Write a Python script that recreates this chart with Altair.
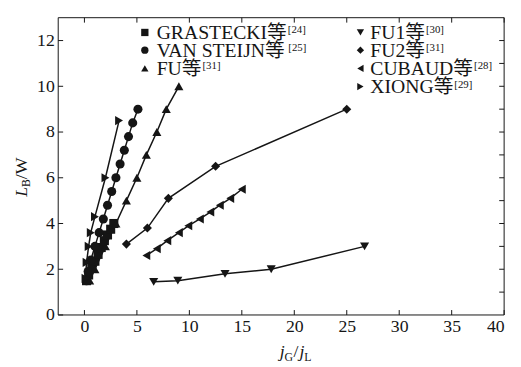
import altair as alt
import pandas as pd

# ---------------- data ----------------
series_names = ["GRASTECKI", "VAN STEIJN", "FU", "FU1", "FU2", "CUBAUD", "XIONG"]
series_shapes = ["square", "circle", "triangle-up", "triangle-down", "diamond",
                 "triangle-left", "triangle-right"]

grastecki_x = [0.2, 0.4, 0.7, 1.0, 1.3, 1.6, 1.9, 2.2, 2.5, 2.8]
grastecki_y = [1.5, 1.75, 2.05, 2.35, 2.65, 2.95, 3.25, 3.5, 3.75, 4.0]

vansteijn_x = [0.2, 0.35, 0.6, 1.0, 1.4, 1.8, 2.2, 2.6, 3.0, 3.4, 3.8, 4.2, 4.6, 5.1]
vansteijn_y = [1.5, 1.9, 2.4, 3.0, 3.6, 4.2, 4.8, 5.4, 6.0, 6.6, 7.2, 7.8, 8.4, 9.0]

fu_x = [0.5, 1.0, 2.0, 3.0, 4.0, 5.0, 5.9, 6.9, 7.8, 9.0]
fu_y = [1.5, 2.0, 3.0, 4.0, 5.0, 6.0, 7.0, 8.0, 9.0, 10.0]

fu1_x = [6.6, 8.9, 13.4, 17.8, 26.7]
fu1_y = [1.45, 1.5, 1.8, 2.0, 3.0]

fu2_x = [4.0, 6.0, 8.0, 12.5, 25.0]
fu2_y = [3.1, 3.8, 5.1, 6.5, 9.0]

cubaud_x = [5.9, 6.9, 7.9, 9.0, 9.9, 11.0, 12.0, 12.9, 13.9, 15.0]
cubaud_y = [2.6, 2.9, 3.25, 3.6, 3.9, 4.2, 4.5, 4.8, 5.1, 5.5]

xiong_x = [0.1, 0.2, 0.4, 0.6, 1.0, 2.0, 3.3]
xiong_y = [1.6, 2.3, 3.0, 3.6, 4.3, 6.0, 8.5]

series_x = [grastecki_x, vansteijn_x, fu_x, fu1_x, fu2_x, cubaud_x, xiong_x]
series_y = [grastecki_y, vansteijn_y, fu_y, fu1_y, fu2_y, cubaud_y, xiong_y]

x_ticks = [0, 5, 10, 15, 20, 25, 30, 35, 40]
y_ticks = [0, 2, 4, 6, 8, 10, 12]
y_minor = [1, 2, 3, 4, 5, 6, 7, 8, 9, 10, 11, 12]

legend_names = ["GRASTECKI", "VAN STEIJN", "FU", "FU1", "FU2", "CUBAUD", "XIONG"]
legend_suffix = "等"
legend_refs = ["[24]", "[25]", "[31]", "[30]", "[31]", "[28]", "[29]"]

# ---------------- layout ----------------
W, H = 453, 302
OX, OY = 59, 15          # page position of the plot area's top-left corner
XD = [-2.5, 40]
YD = [0, 13]
INK = "#151515"
SERIF = "'Liberation Serif', 'Times New Roman', 'Noto Sans CJK SC', serif"
LEG_FS = 20

# Times-metric advance widths (em) for positioning the superscripts
CHAR_W = {"G": .722, "R": .667, "A": .722, "S": .556, "T": .611, "E": .611, "C": .667,
          "K": .722, "I": .333, "V": .722, "N": .722, " ": .25, "J": .389, "F": .556,
          "U": .722, "1": .5, "2": .5, "B": .667, "D": .722, "X": .722, "O": .722}


def text_w(s, fs):
    return sum(CHAR_W.get(c, 1.0) for c in s) * fs


def dx(px):  # page pixel -> data x
    return XD[0] + (px - OX) / W * (XD[1] - XD[0])


def dy(py):  # page pixel -> data y
    return YD[1] - (py - OY) / H * (YD[1] - YD[0])


rows = []
for name, xs, ys in zip(series_names, series_x, series_y):
    for i, (a, b) in enumerate(zip(xs, ys)):
        rows.append({"series": name, "x": a, "y": b, "idx": i})
df = pd.DataFrame(rows)

xscale = alt.Scale(domain=XD, nice=False, zero=False)
yscale = alt.Scale(domain=YD, nice=False, zero=False)
xaxis = alt.Axis(values=x_ticks, ticks=False, domain=False, grid=False, title=None,
                 labelFont=SERIF, labelFontSize=18, labelColor=INK, labelPadding=3)
yaxis = alt.Axis(values=y_ticks, ticks=False, domain=False, grid=False, title=None,
                 labelFont=SERIF, labelFontSize=18, labelColor=INK, labelPadding=4)


def ex(f):
    return alt.X(f, type="quantitative", scale=xscale, axis=xaxis)


def ey(f):
    return alt.Y(f, type="quantitative", scale=yscale, axis=yaxis)


shape_enc = alt.Shape("series:N", scale=alt.Scale(domain=series_names, range=series_shapes),
                      legend=None)

frame = alt.Chart(pd.DataFrame({"k": [0]})).mark_rect(
    fill=None, stroke=INK, strokeWidth=1).encode(
    x=alt.value(0), x2=alt.value(W), y=alt.value(0), y2=alt.value(H))

lines = alt.Chart(df).mark_line(color=INK, strokeWidth=1.5).encode(
    x=ex("x"), y=ey("y"), detail="series:N", order="idx:Q")
points = alt.Chart(df).mark_point(filled=True, color=INK, size=85, opacity=1).encode(
    x=ex("x"), y=ey("y"), shape=shape_enc)

# inward ticks on all four sides
xt = pd.DataFrame({"x": x_ticks})
yt = pd.DataFrame({"y": y_ticks})
ym = pd.DataFrame({"y": y_minor})
tick_bottom = alt.Chart(xt).mark_rule(color=INK, strokeWidth=1).encode(
    x=ex("x"), y=alt.value(H), y2=alt.value(H - 5))
tick_top = alt.Chart(xt).mark_rule(color=INK, strokeWidth=1).encode(
    x=ex("x"), y=alt.value(0), y2=alt.value(5))
tick_left = alt.Chart(yt).mark_rule(color=INK, strokeWidth=1).encode(
    y=ey("y"), x=alt.value(0), x2=alt.value(5))
tick_right = alt.Chart(ym).mark_rule(color=INK, strokeWidth=1).encode(
    y=ey("y"), x=alt.value(W), x2=alt.value(W - 5))

# legend (page pixel positions converted to data space)
col_marker = [147, 147, 147, 366, 366, 366, 366]
col_text = [159, 159, 159, 376, 376, 376, 376]
row_y = [30, 48, 66.5, 30, 48, 66.5, 85]

labels = [n + legend_suffix for n in legend_names]
sup_x = [t + text_w(n, LEG_FS) + LEG_FS + 1 for t, n in zip(col_text, legend_names)]

leg = pd.DataFrame({
    "series": series_names,
    "mx": [dx(v) for v in col_marker],
    "my": [dy(v) for v in row_y],
    "tx": [dx(v) for v in col_text],
    "ty": [dy(v + 6.5) for v in row_y],
    "sx": [dx(v) for v in sup_x],
    "sy": [dy(v + 1) for v in row_y],
    "label": labels,
    "ref": legend_refs,
})

leg_markers = alt.Chart(leg).mark_point(filled=True, color=INK, size=55, opacity=1).encode(
    x=ex("mx"), y=ey("my"), shape=shape_enc)
leg_text = alt.Chart(leg).mark_text(align="left", baseline="alphabetic", font=SERIF,
                                    fontSize=LEG_FS, color=INK).encode(
    x=ex("tx"), y=ey("ty"), text="label:N")
leg_sup = alt.Chart(leg).mark_text(align="left", baseline="alphabetic", font=SERIF,
                                   fontSize=11, color=INK).encode(
    x=ex("sx"), y=ey("sy"), text="ref:N")


def title_part(texts, xs, ys, size, style, angle=0):
    d = pd.DataFrame({"t": texts, "px": [dx(v) for v in xs], "py": [dy(v) for v in ys]})
    return alt.Chart(d).mark_text(align="left", baseline="alphabetic", font=SERIF,
                                  fontSize=size, fontStyle=style, color=INK,
                                  angle=angle).encode(
        x=ex("px"), y=ey("py"), text="t:N")


# x title  j_G / j_L
xt_j = title_part(["j", "j"], [284, 304], [360, 360], 18, "italic")
xt_sub = title_part(["G", "L"], [289, 309], [364, 364], 12, "normal")
xt_slash = title_part(["/"], [298], [360], 18, "normal")

# y title  L_B / W  (rotated)
yt_L = title_part(["L"], [27], [197], 18, "italic", 270)
yt_B = title_part(["B"], [30], [187], 12, "normal", 270)
yt_W = title_part(["/W"], [27], [179], 18, "normal", 270)

chart = alt.layer(
    lines, points, tick_bottom, tick_top, tick_left, tick_right, frame,
    leg_markers, leg_text, leg_sup, xt_j, xt_sub, xt_slash, yt_L, yt_B, yt_W,
).properties(
    width=W, height=H,
    autosize=alt.AutoSizeParams(type="none"),
    padding={"left": OX - 8, "top": OY - 8, "right": 9, "bottom": 50},
    background="white",
).configure_view(stroke=None)

chart.save("out.html", embed_options={"renderer": "svg", "actions": False})
